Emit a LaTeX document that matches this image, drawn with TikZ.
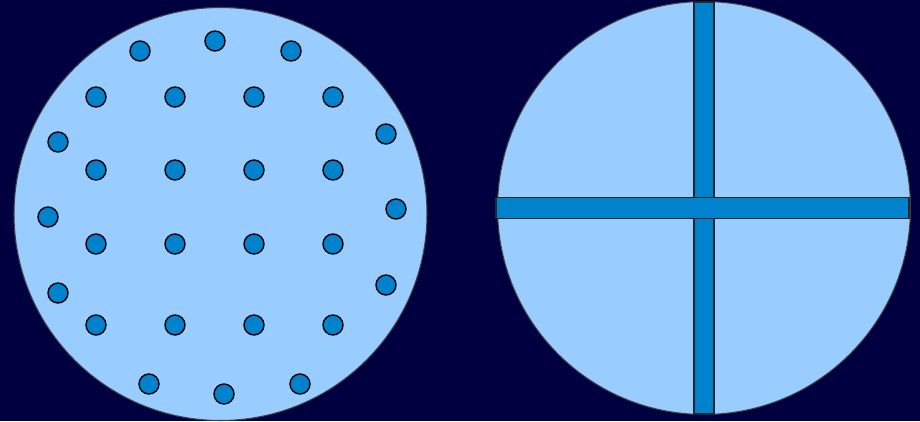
\documentclass[tikz,border=0pt]{standalone}
\usepackage{xcolor}
\definecolor{night}{RGB}{0,0,64}
\definecolor{plate}{RGB}{153,204,255}
\definecolor{hole}{RGB}{0,130,204}
\tikzstyle{disc}=[fill=plate,draw=black!75,line width=0.3pt]
\tikzstyle{pin}=[fill=hole,draw=black,line width=0.4pt]
\tikzstyle{bar}=[fill=hole,draw=black!85,line width=0.4pt]
\def\R{2.065}
\def\r{0.1}
\def\W{0.2}

\begin{document}
\begin{tikzpicture}
  % BACKGROUND
  \fill[night] (0,0) rectangle (9.2,4.21);
  \useasboundingbox (0,0) rectangle (9.2,4.21);
  
  \coordinate (A) at (2.205,2.07); % LEFT DISC
  \coordinate (B) at (7.04,2.13);  % RIGHT DISC
  
  % LEFT DISC WITH PINS
  \draw[disc] (A) circle (\R);
  \foreach \x in {0.96,1.75,2.54,3.33}{
    \foreach \y in {3.24,2.51,1.77,0.96}{
      \draw[pin] (\x,\y) circle (\r);
    }
  }
  \foreach \p in {(1.40,3.70), (2.15,3.80), (2.91,3.70),
                  (0.58,2.79), (0.48,2.04), (0.58,1.28),
                  (3.86,2.87), (3.96,2.12), (3.86,1.36),
                  (1.49,0.37), (2.24,0.27), (3.00,0.37)}{
    \draw[pin] \p circle (\r);
  }
  
  % RIGHT DISC WITH CROSS
  \draw[disc] (B) circle (\R);
  \draw[bar] (B) ++(-\W/2,-2.06) rectangle ++(\W,4.12);
  \draw[bar] (4.96,2.027) rectangle (9.09,2.237);
  
\end{tikzpicture}
\end{document}
